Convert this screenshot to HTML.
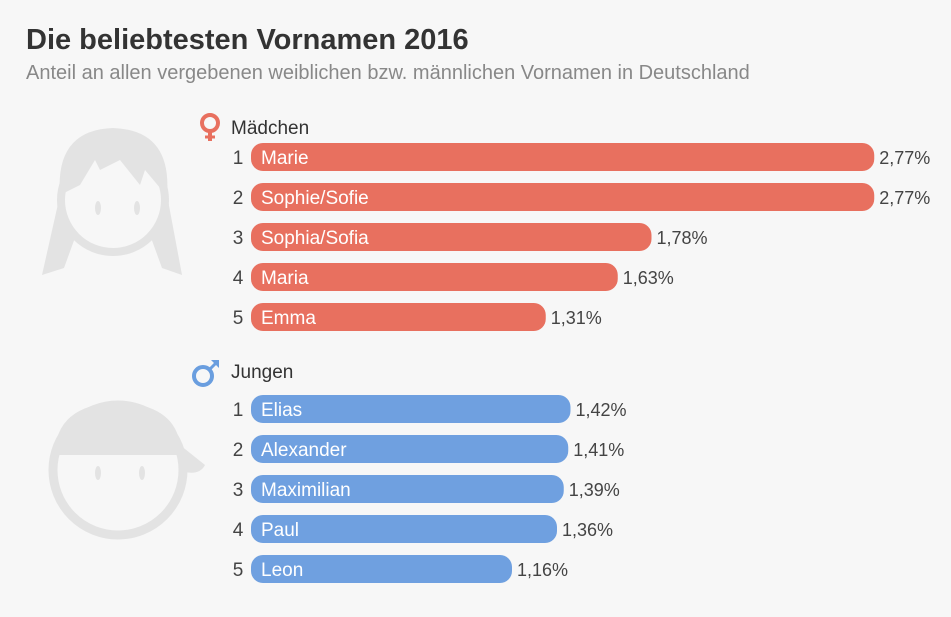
<!DOCTYPE html>
<html><head><meta charset="utf-8"><style>
body{margin:0;width:951px;height:617px;background:#f7f7f7;font-family:"Liberation Sans",sans-serif;position:relative;overflow:hidden}
#title{position:absolute;left:26px;top:24px;font-size:29px;font-weight:bold;color:#333}
#sub{position:absolute;left:26px;top:62px;font-size:20px;color:#888}
svg{position:absolute;left:0;top:0}
</style></head><body>
<div id="title">Die beliebtesten Vornamen 2016</div>
<div id="sub">Anteil an allen vergebenen weiblichen bzw. männlichen Vornamen in Deutschland</div>
<svg id="chart" width="951" height="617" font-family="Liberation Sans, sans-serif">
<g fill="#e3e3e3">
<path d="M60,195 Q55,130 113,128 Q172,130 167,195 L182,275 L162,268 L150,235 Q113,265 76,235 L64,268 L42,275 Z"/>
<circle cx="113" cy="200" r="52" fill="#f7f7f7"/>
<circle cx="113" cy="200" r="52" fill="none" stroke="#e3e3e3" stroke-width="8"/>
<path d="M60,195 Q60,140 113,138 Q166,140 166,195 L145,170 L140,185 L120,160 L100,170 L95,160 L80,185 Z"/>
<ellipse cx="98" cy="208" rx="3" ry="7"/><ellipse cx="137" cy="208" rx="3" ry="7"/>
</g>
<g fill="#e3e3e3">
<circle cx="118" cy="470" r="65" fill="none" stroke="#e3e3e3" stroke-width="9"/>
<path d="M55,455 Q55,405 118,402 Q175,405 180,445 L205,465 Q200,475 185,472 L180,455 Z"/>
<path d="M55,455 L180,455 L183,470 L58,470Z" fill="#f7f7f7" opacity="0"/>
<ellipse cx="98" cy="473" rx="3" ry="7"/><ellipse cx="142" cy="473" rx="3" ry="7"/>
</g>
<g><circle cx="210" cy="123" r="8" fill="none" stroke="#e8705f" stroke-width="4"/><line x1="210" y1="131" x2="210" y2="141" stroke="#e8705f" stroke-width="4"/><line x1="205" y1="137" x2="215" y2="137" stroke="#e8705f" stroke-width="3"/></g>
<text x="231" y="134" font-size="19" fill="#333">Mädchen</text>
<g><circle cx="203" cy="376" r="9" fill="none" stroke="#6a9edf" stroke-width="4"/><line x1="209" y1="370" x2="217" y2="362" stroke="#6a9edf" stroke-width="3"/><path d="M211,360 L219,360 L219,368Z" fill="#6a9edf"/></g>
<text x="231" y="378" font-size="19" fill="#333">Jungen</text>
</svg>
<script>
const girlNames=["Marie","Sophie/Sofie","Sophia/Sofia","Maria","Emma"];
const girlValues=[2.77,2.77,1.78,1.63,1.31];
const boyNames=["Elias","Alexander","Maximilian","Paul","Leon"];
const boyValues=[1.42,1.41,1.39,1.36,1.16];
const svg=document.getElementById('chart');
const NS='http://www.w3.org/2000/svg';
const x0=251, scale=225;
const xLen=v=>v*scale;
function el(t,a){const e=document.createElementNS(NS,t);for(const k in a)e.setAttribute(k,a[k]);svg.appendChild(e);return e;}
function draw(names,vals,y0,color,grp){
 names.forEach((n,i)=>{
  const cy=y0+i*40,w=xLen(vals[i]);
  const r=el('rect',{x:x0,y:cy-14,width:w,height:28,rx:12,fill:color});
  
  
  const rk=el('text',{x:238,y:cy+7,'font-size':19,fill:'#444','text-anchor':'middle'});rk.textContent=i+1;
  
  
  const nm=el('text',{x:x0+10,y:cy+7,'font-size':19,fill:'#fff'});nm.textContent=n;
  
  
  const vl=el('text',{x:x0+w+5,y:cy+7,'font-size':18,fill:'#444'});vl.textContent=vals[i].toFixed(2).replace('.',',')+'%';
  
  
 });
}
draw(girlNames,girlValues,157,'#e8705f','girl');
draw(boyNames,boyValues,409,'#6fa0e0','boy');
</script>
</body></html>
